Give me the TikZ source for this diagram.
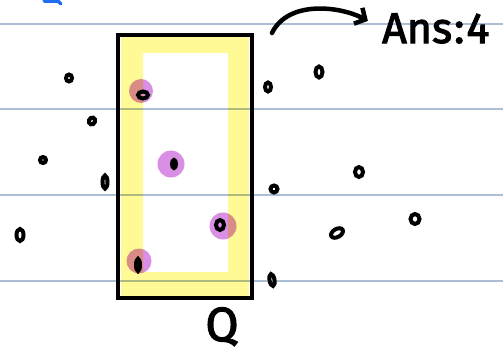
\documentclass[tikz,border=0pt]{standalone}
\usepackage{fontspec}
\newfontfamily\handfont[FakeBold=2.5]{Fira Sans}
\usetikzlibrary{shapes.geometric, arrows.meta}

\definecolor{ruleblue}{RGB}{172,190,214}
\definecolor{hiyellow}{RGB}{255,250,150}
\definecolor{hipurple}{RGB}{217,143,227}
\definecolor{penblue}{RGB}{30,110,240}

\begin{document}
\begin{tikzpicture}[
    x=1pt, y=-1pt,
    rule/.style      = {ruleblue, line width=1.3pt},
    dot/.style 2 args = {ellipse, draw, line width=4pt, inner sep=0pt,
                         minimum width=#1pt, minimum height=#2pt},
    hilite/.style    = {circle, fill=hipurple, inner sep=0pt},
    boxline/.style   = {draw, line width=3.8pt, inner sep=0pt},
    arrowline/.style = {-{Straight Barb[length=8pt,width=18pt]},
                        line width=4.5pt, line cap=round},
    hand/.style      = {font=\handfont\fontsize{43}{47}\selectfont, inner sep=0pt},
]
\useasboundingbox (0,0) rectangle (503,356);

% ============================================================
%  RULED PAPER
% ============================================================
\draw[rule] (0,24)  -- (503,24);
\draw[rule] (0,109) -- (503,109);
\draw[rule] (0,195) -- (503,195);
\draw[rule] (0,281) -- (503,281);

% stray pen mark, top left
\draw[penblue, line width=3.5pt, line cap=round] (44,1) -- (58,1) -- (61,4);

% ============================================================
%  HIGHLIGHTER  --  yellow band inside the box, purple hits
% ============================================================
\begin{scope}[blend mode=multiply]
  \fill[hiyellow, even odd rule]
      (121,34) rectangle (249,296)
      (143,53) rectangle (228,272);
  \node[hilite, minimum size=24pt] (hl1) at (141,91)  {};
  \node[hilite, minimum size=27pt] (hl2) at (171,164) {};
  \node[hilite, minimum size=27pt] (hl3) at (223,226) {};
  \node[hilite, minimum size=25pt] (hl4) at (139,261) {};
\end{scope}

% ============================================================
%  QUERY BOX  Q
% ============================================================
\node[boxline, minimum width=134pt, minimum height=263pt] (qbox) at (185,166.5) {};
\node[hand, anchor=base, font=\handfont\fontsize{48}{52}\selectfont] (qlbl) at (222,341) {Q};

% points inside the box
\node[dot={10}{7}]             (c1) at (143,95)  {};
\node[dot={4}{8}]              (c2) at (174,164) {};
\node[dot={8}{10}]             (c3) at (220,225) {};
\node[dot={4}{12}]             (c4) at (138,265) {};

% points outside the box
\node[dot={6}{7}]              (p1)  at (69,78)   {};
\node[dot={6}{7}, rotate=-20]  (p2)  at (92,121)  {};
\node[dot={6}{6}]              (p3)  at (43,160)  {};
\node[dot={5}{13}]             (p4)  at (105,182) {};
\node[dot={7}{12}]             (p5)  at (20,235)  {};
\node[dot={6}{9}]              (p6)  at (268,87)  {};
\node[dot={7}{11}]             (p7)  at (319,72)  {};
\node[dot={7}{7}]              (p8)  at (274,189) {};
\node[dot={8}{10}]             (p9)  at (359,172) {};
\node[dot={13}{8}, rotate=30]  (p10) at (337,233) {};
\node[dot={9}{10}]             (p11) at (415,219) {};
\node[dot={5}{12}, rotate=10]  (p12) at (272,280) {};

% ============================================================
%  ANSWER
% ============================================================
\node[hand, anchor=base west] (ans) at (382,43) {Ans\hspace{2pt}:\hspace{2pt}4};
\coordinate (arrowstart) at (272,33);
\draw[arrowline, shorten >=16pt]
    (arrowstart) .. controls (288,0) and (340,6) .. (ans.west);

\end{tikzpicture}
\end{document}
